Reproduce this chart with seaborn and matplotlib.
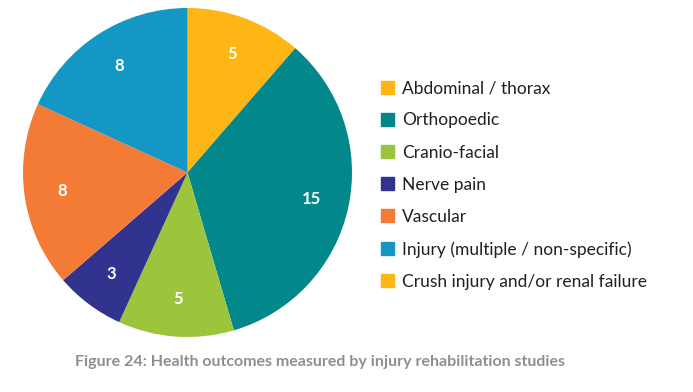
import matplotlib
matplotlib.use("Agg")
import matplotlib.pyplot as plt
import matplotlib.patches as mpatches
import seaborn as sns

# data
categories = ["Abdominal / thorax", "Orthopoedic", "Cranio-facial", "Nerve pain",
              "Vascular", "Injury (multiple / non-specific)", "Crush injury and/or renal failure"]
counts = [5, 15, 5, 3, 8, 8, 0]
colors = ["#FDB614", "#02888A", "#9CC43D", "#32338F", "#F47B36", "#1597C6", "#FDB614"]

sns.set_theme(style="white")
plt.rcParams["font.family"] = ["Lato", "DejaVu Sans"]
palette = sns.color_palette(colors)

fig = plt.figure(figsize=(6.93, 3.92), dpi=100)
ax = fig.add_axes([23 / 693, 55 / 392, 329 / 693, 329 / 392])

total = sum(counts)
wedges, _, autotexts = ax.pie(
    counts, colors=palette, startangle=90, counterclock=False,
    autopct=lambda p: f"{round(p * total / 100):d}" if p > 0 else "",
    pctdistance=0.77, wedgeprops=dict(linewidth=0),
    textprops=dict(color="white", fontsize=12, fontweight="bold"))
ax.set_xlim(-1, 1)
ax.set_ylim(-1, 1)
ax.set_aspect("equal")

handles = [mpatches.Patch(color=c, label=l) for c, l in zip(palette, categories)]
fig.legend(handles=handles, loc="upper left", bbox_to_anchor=(376 / 693, 1 - 75 / 392),
           frameon=False, fontsize=12.5, handlelength=0.75, handleheight=0.75,
           handletextpad=0.45, labelspacing=0.93, labelcolor="#231F20",
           borderaxespad=0, borderpad=0.3)

fig.text(320 / 693, 1 - 362 / 392, "Figure 24: Health outcomes measured by injury rehabilitation studies",
         ha="center", va="center", fontsize=11.5, fontweight="bold", color="#8F8F8F")

fig.savefig("out.png", dpi=100)
